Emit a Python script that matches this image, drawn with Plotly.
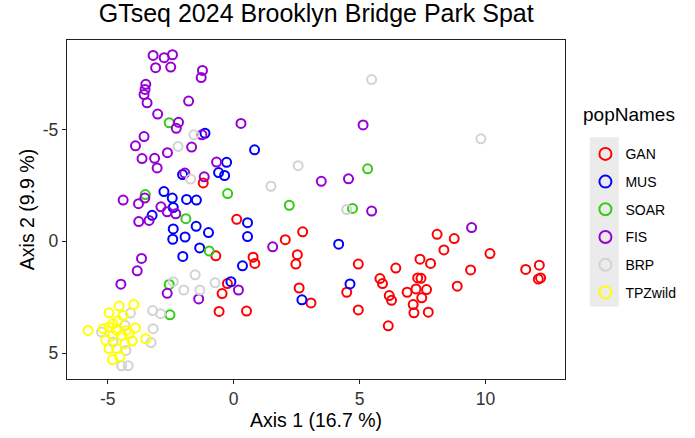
import plotly.graph_objects as go

# PCA scores (Axis 1, Axis 2) per population
gan_x = [-1.21, 0.12, -0.71, -0.25, -0.46, -0.58, 2.74, 2.05, 0.77, 0.84, 2.53, 2.47, 2.60, 3.07, 0.51,
         4.95, 4.49, 4.95, 6.44, 5.81, 5.91, 6.18, 6.27, 6.14, 8.08, 8.76, 8.35, 10.18, 7.40, 7.82,
         9.41, 11.60, 12.14, 12.10, 12.19, 7.31, 7.44, 8.88, 6.89, 7.24, 7.66, 7.47, 7.13, 7.16, 7.73]
gan_y = [-2.61, -0.98, 0.65, 1.89, 2.34, 3.14, -0.42, -0.07, 0.71, 0.99, 0.60, 1.02, 2.09, 2.76, 3.12,
         1.02, 2.28, 3.07, 1.20, 1.67, 1.89, 2.43, 2.64, 3.78, -0.31, -0.12, 0.39, 0.55, 0.80, 0.99,
         1.28, 1.26, 1.07, 1.69, 1.64, 1.64, 1.66, 2.01, 2.28, 2.13, 2.16, 2.53, 2.83, 3.20, 3.17]

mus_x = [-1.14, -0.28, -0.60, -0.36, -2.03, -2.77, -2.44, -1.87, -1.48, -2.40, -3.24, -1.49, -2.40,
         -1.00, -1.93, -2.42, -1.35, -2.02, 0.83, 0.55, 0.55, 0.35, -0.11, 4.17, 4.62, 2.71]
mus_y = [-4.83, -3.53, -3.07, -2.94, -2.98, -2.22, -1.93, -1.87, -1.84, -1.51, -1.16, -0.67, -0.55,
         -0.39, -0.19, -0.09, 0.30, 0.68, -4.09, -0.83, -0.21, 1.10, 1.81, 0.13, 1.91, 2.62]

soar_x = [-2.56, -0.24, -3.51, -1.90, -0.97, -2.56, -2.53, 5.32, 2.21, 4.72]
soar_y = [-5.30, -2.13, -2.09, -1.01, 0.44, 1.93, 3.29, -3.24, -1.61, -1.47]

fis_x = [-3.20, -2.76, -2.43, -3.10, -2.50, -1.24, -1.29, -3.49, -3.52, -3.56, -3.44, -1.79, -3.02,
         -2.19, -2.28, 0.29, -3.56, -3.90, -2.63, -1.67, -3.64, -3.14, -3.04, -0.68, -1.94, -1.17,
         -1.26, -4.39, -3.53, -3.78, -2.89, -2.64, -2.30, -3.36, -3.77, -3.66, -3.83, -4.48, -2.64,
         -1.39, 0.19, 1.55, 5.14, 3.48, 4.56, 5.48, 9.45]
fis_y = [-8.31, -8.21, -8.34, -7.76, -7.79, -7.64, -7.32, -7.02, -6.79, -6.56, -6.19, -6.27, -5.69,
         -5.32, -5.05, -5.27, -4.68, -4.27, -3.96, -4.21, -3.70, -3.71, -3.28, -3.54, -3.05, -2.88,
         -4.76, -1.84, -1.93, -1.68, -1.54, -1.32, -1.23, -0.93, -0.88, 0.77, 1.32, 1.92, 2.33,
         2.58, 2.18, 0.25, -5.20, -2.68, -2.79, -1.35, -0.61]

brp_x = [5.48, 9.82, -1.58, -2.21, -1.71, 2.56, 1.48, 4.49, -1.53, -2.40, -1.98, -1.34, -0.74,
         -3.22, -2.90, -3.20, -3.28, -4.10, -5.25, -4.32, -4.28, -4.45, -4.19, -4.79]
brp_y = [-7.23, -4.58, -4.76, -4.24, -2.78, -3.38, -2.46, -1.42, 1.50, 1.81, 2.18, 2.18, 1.86,
         3.10, 3.24, 3.91, 4.53, 3.21, 4.06, 3.76, 4.88, 5.57, 5.57, 4.50]

tpz_x = [-3.97, -4.55, -4.95, -4.39, -5.78, -5.18, -4.79, -4.95, -4.65, -4.26, -3.90, -4.45, -4.81,
         -4.15, -4.03, -3.49, -4.95, -4.65, -4.81, -4.52, -5.08, -4.60, -4.32]
tpz_y = [2.83, 2.90, 3.20, 3.32, 3.99, 3.91, 3.69, 3.84, 3.99, 3.99, 3.87, 4.21, 4.21,
         4.13, 4.46, 4.36, 4.80, 4.80, 5.29, 5.17, 4.43, 3.56, 4.58]

pop_names = ["GAN", "MUS", "SOAR", "FIS", "BRP", "TPZwild"]
pop_colors = ["#FF0000", "#0000FF", "#33CC14", "#9400D3", "#D3D3D3", "#FFFF00"]
pop_x = [gan_x, mus_x, soar_x, fis_x, brp_x, tpz_x]
pop_y = [gan_y, mus_y, soar_y, fis_y, brp_y, tpz_y]

x_ticks = [-5, 0, 5, 10]
x_tick_text = ["-5", "0", "5", "10"]
y_ticks = [-5, 0, 5]
y_tick_text = ["-5", "0", "5"]

FONT = "Liberation Sans, Arial, Helvetica, sans-serif"

fig = go.Figure()
for name, col, xs, ys in zip(pop_names, pop_colors, pop_x, pop_y):
    fig.add_trace(go.Scatter(
        x=xs, y=ys, mode="markers", name=name, legendgroup=name,
        marker=dict(symbol="circle-open", size=9, color=col, line=dict(width=2, color=col)),
    ))

axis_common = dict(
    showgrid=False, zeroline=False, showline=True, mirror=True,
    linecolor="#222222", linewidth=1.3, ticks="outside", ticklen=4,
    tickcolor="#222222", tickwidth=1.3,
    tickfont=dict(family=FONT, size=17.5, color="#333333"),
)

fig.update_layout(
    width=695, height=438,
    margin=dict(l=67, r=130, t=40, b=57),
    paper_bgcolor="white", plot_bgcolor="white",
    font=dict(family=FONT, color="black"),
    title=dict(text="GTseq 2024 Brooklyn Bridge Park Spat", x=0.455, xanchor="center",
               y=0.99, yanchor="top", font=dict(family=FONT, size=25, color="black")),
    xaxis=dict(range=[-6.62, 13.16], tickvals=x_ticks, ticktext=x_tick_text,
               title=dict(text="Axis 1 (16.7 %)", font=dict(family=FONT, size=19.5), standoff=3),
               **axis_common),
    yaxis=dict(range=[6.16, -9.0], tickvals=y_ticks, ticktext=y_tick_text,
               title=dict(text="Axis 2 (9.9 %)", font=dict(family=FONT, size=19.5), standoff=2),
               **axis_common),
    legend=dict(
        font=dict(family=FONT, size=14, color="black"),
        x=1.041, xanchor="left", y=0.71, yanchor="top",
        bgcolor="rgba(0,0,0,0)", tracegroupgap=6.5, itemsizing="constant",
    ),
    annotations=[dict(text="popNames", xref="paper", yref="paper", x=1.033, y=0.78,
                      xanchor="left", yanchor="middle", showarrow=False,
                      font=dict(family=FONT, size=19, color="black"))],
    shapes=[dict(type="rect", xref="paper", yref="paper",
                 x0=1.050, x1=1.108, y0=0.214, y1=0.713,
                 fillcolor="#EBEBEB", line=dict(width=0), layer="below")],
)

fig.write_html("out.html")
